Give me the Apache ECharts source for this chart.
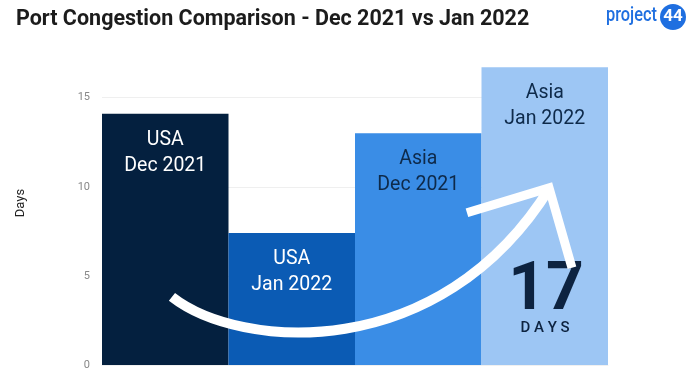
<!DOCTYPE html>
<html><head><meta charset="utf-8">
<script src="https://cdn.jsdelivr.net/npm/echarts@6/dist/echarts.min.js"></script>
<style>html,body{margin:0;padding:0;background:#fff}#c{width:700px;height:381px}</style>
</head><body><div id="c"></div>
<script>
const categories = ['USA\nDec 2021', 'USA\nJan 2022', 'Asia\nDec 2021', 'Asia\nJan 2022'];
const values = [14.1, 7.4, 13.0, 16.7];
const barColors = ['#04203f', '#0b5bb4', '#3a8de6', '#9dc6f4'];
const labelColors = ['#ffffff', '#ffffff', '#0e2a4a', '#0e2a4a'];
const yTicks = [0, 5, 10, 15];
const yName = 'Days';
// annotation arrow in data space: [category position (0..4), days]
const arrowCurve = [[0.553, 3.82], [1.09, 0.84], [2.67, 0.0], [3.54, 9.94]];
const arrowHead = [[2.885, 8.54], [3.534, 9.94], [3.715, 5.45]];
const bigValue = '17';
const bigUnit = 'D A Y S';
const bigPos = [3.51, 4.16];

const chart = echarts.init(document.getElementById('c'));
chart.setOption({
  animation: false,
  backgroundColor: '#ffffff',
  title: {
    text: 'Port Congestion Comparison - Dec 2021 vs Jan 2022',
    left: 11, top: 4,
    textStyle: { fontFamily: 'Roboto', fontSize: 21.5, fontWeight: 'bold', color: '#1c1c1c' }
  },
  grid: { left: 102, right: 92, top: 62, bottom: 16 },
  xAxis: [
    { type: 'category', data: categories, axisLabel: { show: false }, axisTick: { show: false },
      axisLine: { show: true, lineStyle: { color: '#f0f0f0' } } },
    { type: 'value', min: 0, max: 4, show: false }
  ],
  yAxis: {
    type: 'value', min: 0, max: 17, interval: 5,
    axisLine: { show: false }, axisTick: { show: false },
    axisLabel: { fontFamily: 'Roboto', fontSize: 11, color: '#888', margin: 12,
      formatter: v => yTicks.indexOf(v) >= 0 ? String(v) : '' },
    splitLine: { show: true, showMaxLine: false, lineStyle: { color: '#efefef' } }
  },
  series: [{
    type: 'bar', xAxisIndex: 0, barCategoryGap: 0, z: 2,
    data: values.map((v, i) => ({
      value: v,
      itemStyle: { color: barColors[i] },
      label: { color: labelColors[i] }
    })),
    label: {
      show: true, position: 'insideTop', distance: 13,
      formatter: p => categories[p.dataIndex],
      fontFamily: 'Roboto', fontSize: 19.5, lineHeight: 26
    }
  }]
});

function px(p) { return chart.convertToPixel({ xAxisIndex: 1, yAxisIndex: 0 }, p); }
const c = arrowCurve.map(px);
const h = arrowHead.map(px);
const b = px(bigPos);
chart.setOption({
  graphic: [
    { type: 'text', z: 90, x: 21, y: 203, rotation: Math.PI / 2,
      style: { x: 0, y: 0, text: yName, fill: '#222', font: '13px Roboto',
        textAlign: 'center', textVerticalAlign: 'middle' } },
    { type: 'text', z: 90, style: { x: b[0], y: b[1] + 2, text: bigValue, fill: '#0d2340',
      font: 'bold 66px Roboto', textAlign: 'center', textVerticalAlign: 'middle' } },
    { type: 'text', z: 90, style: { x: b[0] - 1, y: b[1] + 37, text: bigUnit, fill: '#0d2340',
      font: '500 15px Roboto', textAlign: 'center', textVerticalAlign: 'middle' } },
    { type: 'bezierCurve', z: 100, shape: { x1: c[0][0], y1: c[0][1], cpx1: c[1][0], cpy1: c[1][1],
      cpx2: c[2][0], cpy2: c[2][1], x2: c[3][0], y2: c[3][1] },
      style: { stroke: '#ffffff', lineWidth: 10, fill: null } },
    { type: 'polyline', z: 100, shape: { points: h },
      style: { stroke: '#ffffff', lineWidth: 9, fill: null, lineJoin: 'miter' } },
    { type: 'text', z: 100, left: 606, top: 5, scaleX: 0.78, style: { text: 'project', fill: '#1f6fe0',
      font: '500 21px Roboto' } },
    { type: 'circle', z: 100, shape: { cx: 673, cy: 17, r: 13 }, style: { fill: '#1f6fe0' } },
    { type: 'text', z: 101, style: { x: 673, y: 17, text: '44', fill: '#ffffff', font: 'bold 17px Roboto',
      textAlign: 'center', textVerticalAlign: 'middle' } }
  ]
});
</script>
</body></html>
